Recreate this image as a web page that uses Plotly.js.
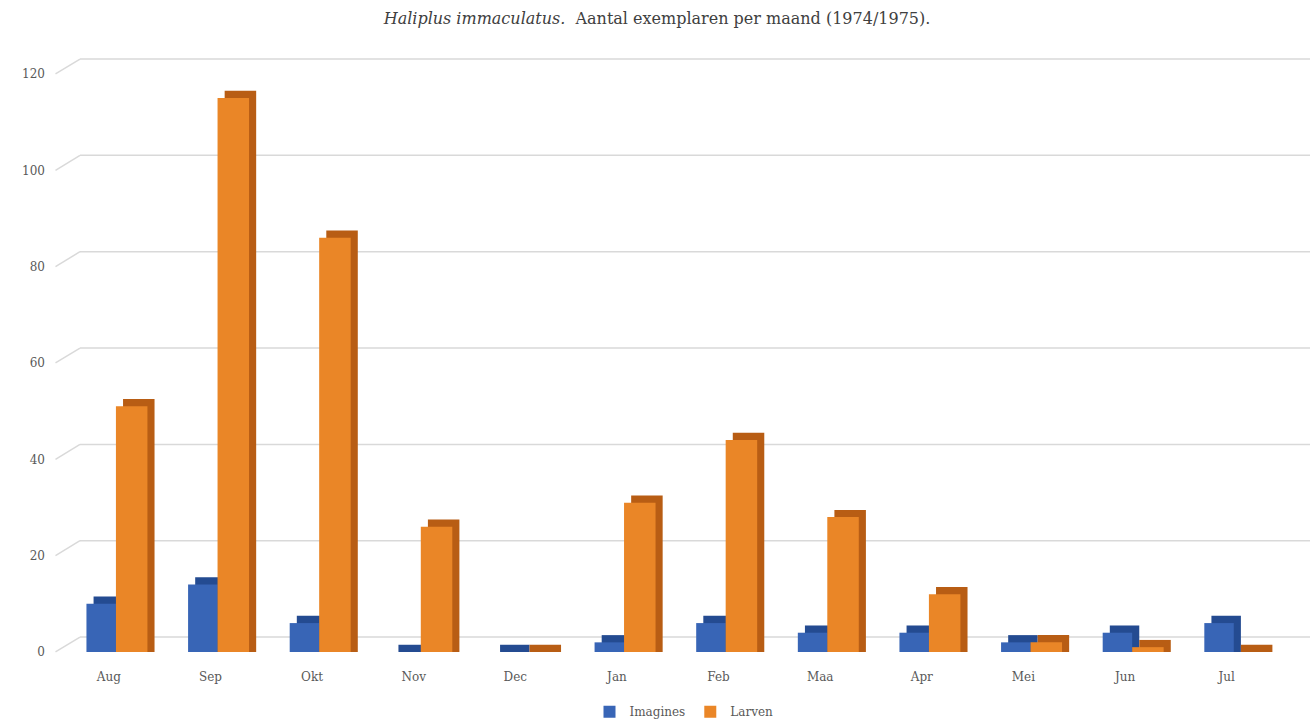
<!DOCTYPE html>
<html>
<head>
<meta charset="utf-8">
<script src="https://cdn.plot.ly/plotly-3.0.1.min.js"></script>
<style>
  html, body { margin: 0; padding: 0; background: #ffffff; }
  #chart { width: 1314px; height: 724px; }
</style>
</head>
<body>
<div id="chart"></div>
<script>
// ---- data ----
const months = ["Aug", "Sep", "Okt", "Nov", "Dec", "Jan", "Feb", "Maa", "Apr", "Mei", "Jun", "Jul"];
const imagines = [10, 14, 6, 0, 0, 2, 6, 4, 4, 2, 4, 6];
const larven = [51, 115, 86, 26, 0, 31, 44, 28, 12, 2, 1, 0];
const yTicks = [0, 20, 40, 60, 80, 100, 120];

// ---- styling ----
const blue = "#3865b6", blueDark = "#244b91";
const orange = "#ea8627", orangeDark = "#b85d14";
const font = "'DejaVu Serif', 'Liberation Serif', serif";
const textGray = "#595959";

const dx = 0.07;   // depth in category units
const dy = 1.5;    // depth in value units
const back = 3.1;  // back-wall offset in value units

const wB = 0.29, oB = -0.22;
const wO = 0.31, oO = oB + wB;

function depth(vals) { return vals.map(v => v + dy); }

const traces = [
  { type: "bar", x: months, y: depth(imagines), base: 0, offset: oB + dx, width: wB,
    marker: { color: blueDark, line: { width: 0 } }, showlegend: false, hoverinfo: "skip" },
  { type: "bar", x: months, y: depth(larven), base: 0, offset: oO + dx, width: wO,
    marker: { color: orangeDark, line: { width: 0 } }, showlegend: false, hoverinfo: "skip" },
  { type: "bar", name: "Imagines", x: months, y: imagines, offset: oB, width: wB,
    marker: { color: blue, line: { width: 0 } } },
  { type: "bar", name: "Larven", x: months, y: larven, offset: oO, width: wO,
    marker: { color: orange, line: { width: 0 } } }
];

// back-wall gridlines with perspective connectors
const wallX = 22 / 1252;
const shapes = [];
yTicks.forEach(v => {
  shapes.push({ type: "line", xref: "paper", yref: "y", x0: wallX, x1: 1, y0: v + back, y1: v + back,
    line: { color: "#d9d9d9", width: 1.5 }, layer: "below" });
  shapes.push({ type: "line", xref: "paper", yref: "y", x0: -0.002, x1: wallX, y0: v, y1: v + back,
    line: { color: "#d9d9d9", width: 1.5 }, layer: "below" });
});

const layout = {
  width: 1314, height: 724,
  margin: { l: 58, r: 4, t: 52, b: 62, autoexpand: false },
  paper_bgcolor: "#ffffff", plot_bgcolor: "rgba(0,0,0,0)",
  barmode: "overlay",
  font: { family: font, color: textGray, size: 12 },
  title: {
    text: "<i>Haliplus immaculatus.</i>  Aantal exemplaren per maand (1974/1975).",
    font: { family: font, size: 16, color: "#404040" },
    x: 0.5, xanchor: "center", y: 0.974, yanchor: "middle", xref: "container"
  },
  xaxis: {
    type: "category", range: [-0.5, 11.82],
    showgrid: false, zeroline: false, showline: false, ticks: "",
    ticklabelstandoff: 6,
    tickfont: { family: font, size: 12, color: textGray }
  },
  yaxis: {
    range: [-2.08, 124.56], tickvals: yTicks, ticktext: yTicks.map(String),
    showgrid: false, zeroline: false, showline: false, ticks: "",
    ticklabelstandoff: 12,
    tickfont: { family: font, size: 12, color: textGray }
  },
  shapes: shapes,
  legend: {
    orientation: "h", x: 0.5, xanchor: "center", yref: "container", y: 0.017, yanchor: "middle",
    font: { family: font, size: 12, color: textGray }, traceorder: "normal",
    itemwidth: 30
  },
  showlegend: true
};

Plotly.newPlot("chart", traces, layout, { displayModeBar: false, staticPlot: true });
</script>
</body>
</html>
